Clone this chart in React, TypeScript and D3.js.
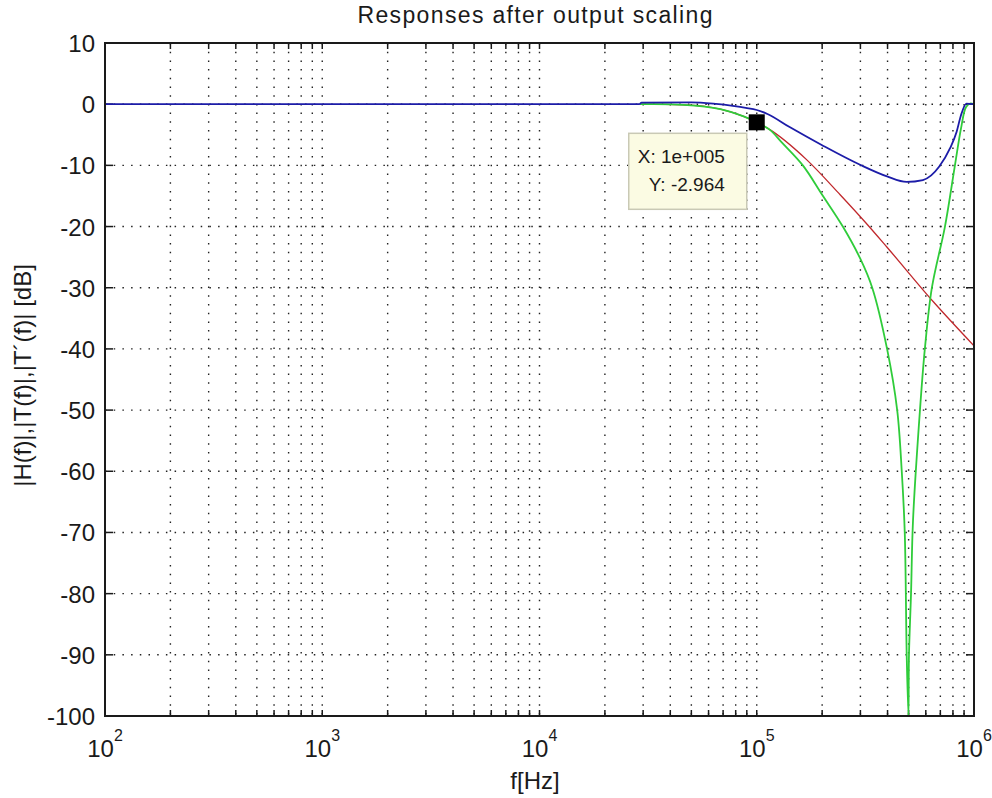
import React from 'react';
import * as d3 from 'd3';

// values (frequency in Hz, magnitude in dB)
const blueFreq = [1e2, 2.88e4, 2.95e4, 5.0e4, 6.3e4, 7.9e4, 8.9e4, 1.0e5, 1.12e5, 1.41e5, 2.0e5, 2.99e5, 3.98e5, 4.9e5, 5.82e5, 6.92e5, 7.76e5, 8.32e5, 8.71e5, 9.23e5, 1e6];
const blueDb = [0, 0, 0.25, 0.3, 0.1, -0.3, -0.6, -0.95, -1.6, -3.7, -6.7, -9.9, -11.8, -12.7, -12.4, -10.2, -7.2, -4.5, -1.8, 0.1, 0];

const redFreq = [2.9e4, 4.6e4, 6.8e4, 8.7e4, 1.0e5, 1.13e5, 1.7e5, 2.42e5, 3.16e5, 3.96e5, 6.5e5, 1e6];
const redDb = [0, -0.1, -0.8, -2.0, -2.96, -4.0, -9.1, -14.8, -19.3, -23.3, -32.3, -39.5];

const greenFreq = [2.9e4, 4.6e4, 6.8e4, 8.7e4, 1.0e5, 1.15e5, 1.3e5, 1.63e5, 2.0e5, 2.49e5, 3.0e5, 3.4e5, 3.98e5, 4.43e5, 4.65e5, 4.8e5, 4.9e5, 4.99e5, 5.02e5, 5.13e5, 5.24e5, 5.64e5, 5.94e5, 6.4e5, 7.35e5, 8.17e5, 8.71e5, 9.18e5, 9.59e5, 1e6];
const greenDb = [0, -0.1, -0.8, -2.0, -2.96, -4.2, -6.2, -10, -14.8, -20, -25.3, -30, -40, -50, -60, -70, -90, -100, -90, -80, -68, -50, -40, -30, -20, -10, -4, -0.5, 0.1, 0];

const xDecades = [2, 3, 4, 5, 6];
const yTicks = [10, 0, -10, -20, -30, -40, -50, -60, -70, -80, -90, -100];
const tipX = 1e5;
const tipY = -2.964;

const W = 992, H = 798;
const m = { left: 105, right: 974, top: 43, bottom: 716 };
const font = '"Liberation Sans", Arial, sans-serif';
const ink = '#1a1a1a';

export default function App() {
  const x = d3.scaleLog().domain([1e2, 1e6]).range([m.left, m.right]);
  const y = d3.scaleLinear().domain([-100, 10]).range([m.bottom, m.top]);

  const minor: number[] = [];
  for (let d = 2; d < 6; d++) for (let k = 2; k <= 9; k++) minor.push(k * Math.pow(10, d));
  const majorInner = xDecades.slice(1, -1).map(d => Math.pow(10, d));

  const line = (fs: number[], vs: number[], curve: d3.CurveFactory) =>
    d3.line<number>()
      .x((_, i) => x(fs[i]))
      .y((v) => y(v))
      .curve(curve)(vs) || '';

  const dots = '1.5 7.2';
  const mx = x(tipX), my = y(tipY);

  return (
    <svg width={W} height={H} style={{ position: 'absolute', left: 0, top: 0, background: '#fff' }} fontFamily={font}>
      <defs>
        <clipPath id="plot">
          <rect x={m.left} y={m.top} width={m.right - m.left} height={m.bottom - m.top} />
        </clipPath>
      </defs>

      {/* grid */}
      <g stroke="#222" strokeWidth={1.4} strokeDasharray={dots} fill="none">
        {minor.concat(majorInner).map((f, i) => (
          <line key={'gx' + i} x1={x(f)} x2={x(f)} y1={m.top} y2={m.bottom} />
        ))}
        {yTicks.slice(1, -1).map((t) => (
          <line key={'gy' + t} x1={m.left} x2={m.right} y1={y(t)} y2={y(t)} />
        ))}
      </g>

      {/* ticks */}
      <g stroke={ink} strokeWidth={1.5}>
        {minor.concat(majorInner).map((f, i) => (
          <g key={'tx' + i}>
            <line x1={x(f)} x2={x(f)} y1={m.bottom} y2={m.bottom - 6} />
            <line x1={x(f)} x2={x(f)} y1={m.top} y2={m.top + 6} />
          </g>
        ))}
        {yTicks.map((t) => (
          <g key={'ty' + t}>
            <line x1={m.left} x2={m.left + 8} y1={y(t)} y2={y(t)} />
            <line x1={m.right} x2={m.right - 8} y1={y(t)} y2={y(t)} />
          </g>
        ))}
      </g>

      {/* curves */}
      <g clipPath="url(#plot)" fill="none" strokeLinejoin="round">
        <path d={line(redFreq, redDb, d3.curveMonotoneX)} stroke="#c0282c" strokeWidth={1.3} />
        <path d={line(greenFreq, greenDb, d3.curveCatmullRom.alpha(0.5))} stroke="#2fcc3a" strokeWidth={1.8} />
        <path d={line(blueFreq, blueDb, d3.curveMonotoneX)} stroke="#1c1ca8" strokeWidth={1.8} />
      </g>

      {/* box */}
      <rect x={m.left} y={m.top} width={m.right - m.left} height={m.bottom - m.top}
        fill="none" stroke={ink} strokeWidth={2} />

      {/* data tip */}
      <rect x={mx - 8} y={my - 8} width={16} height={16} fill="#000" />
      <rect x={mx - 128} y={my + 11} width={118} height={76} fill="#fbfbe3" stroke="#c9c9b5" strokeWidth={1.5} />
      <text x={mx - 119} y={my + 41} fontSize={19} fill={ink}>X: 1e+005</text>
      <text x={mx - 108} y={my + 69} fontSize={19} fill={ink}>Y: -2.964</text>

      {/* y tick labels */}
      {yTicks.map((t) => (
        <text key={'ly' + t} x={m.left - 10} y={y(t) + 9} fontSize={24} textAnchor="end" fill={ink}>{t}</text>
      ))}

      {/* x tick labels */}
      {xDecades.map((d) => (
        <text key={'lx' + d} x={x(Math.pow(10, d))} y={m.bottom + 41} fontSize={24} textAnchor="middle" fill={ink}>
          10<tspan fontSize={16} dy={-16}>{d}</tspan>
        </text>
      ))}

      {/* labels */}
      <text x={535} y={23} fontSize={23} textAnchor="middle" textLength={355} lengthAdjust="spacing" fill={ink}>
        Responses after output scaling
      </text>
      <text x={535} y={789} fontSize={24} textAnchor="middle" fill={ink}>f[Hz]</text>
      <text transform={`translate(31, ${(m.top + m.bottom) / 2 - 4}) rotate(-90)`} fontSize={24} textAnchor="middle" fill={ink}>
        |H(f)|,|T(f)|,|T´(f)| [dB]
      </text>
    </svg>
  );
}
